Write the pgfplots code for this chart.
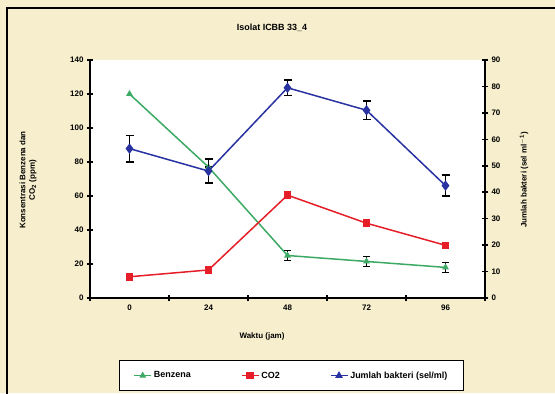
\documentclass[border=0pt]{standalone}
\usepackage{pgfplots}
\pgfplotsset{compat=1.18}
\usepackage{fontspec}
\setmainfont{Liberation Sans}
\definecolor{bg}{RGB}{246,238,204}
\definecolor{cgreen}{RGB}{60,170,100}
\definecolor{cred}{RGB}{230,30,40}
\definecolor{cblue}{RGB}{40,50,160}
\begin{document}
\begin{tikzpicture}[x=1bp,y=1bp]
\useasboundingbox (0,0) rectangle (555,393);
\clip (0,0) rectangle (555,393);
\fill[bg] (0,0) rectangle (555,393);
\draw[line width=1.5bp] (7,-10) rectangle (565,385);
\node[font=\bfseries\small] at (272,365) {Isolat ICBB 33\_4};
\node[font=\bfseries\footnotesize,align=center,rotate=90] at (28,213) {Konsentrasi Benzena dan\\CO$_\mathbf{2}$ (ppm)};
\node[font=\bfseries\footnotesize,rotate=90] at (524,213) {Jumlah bakteri (sel ml$^{\mathbf{-1}}$)};
\node[font=\bfseries\footnotesize] at (262,57) {Waktu (jam)};
\begin{axis}[
  at={(90bp,95bp)}, anchor=south west,
  width=395bp, height=238bp, scale only axis,
  axis background/.style={fill=white},
  xmin=-0.5, xmax=4.5, ymin=0, ymax=140,
  axis y line*=left, axis x line*=bottom,
  axis line style={line width=1.5bp,-},
  xtick={-0.5,0.5,...,4.5},
  x tick label as interval,
  xticklabels={0,24,48,72,96},
  ytick={0,20,...,140},
  tick align=center, major tick length=6bp,
  tick style={line width=1.5bp,black},
  ticklabel style={font=\bfseries\footnotesize},
  /pgf/number format/assume math mode=true,
  legend style={at={(0.51,-0.26)}, anchor=north, legend columns=3,
    draw=black, line width=1.5bp, fill=white, font=\bfseries\small,
    inner xsep=14bp, inner ysep=9bp,
    /tikz/every even column/.append style={column sep=48bp}},
  legend cell align=left,
  legend image post style={line width=1.5bp},
]
\addplot+[cgreen, line width=1.5bp, mark=triangle*, mark size=2.5bp,
  mark options={fill=cgreen, draw=cgreen},
  error bars/.cd, y dir=both, y explicit,
  error bar style={black,line width=1.5bp}, error mark options={black,line width=1.5bp,mark size=3.5bp,rotate=90}]
  coordinates {(0,120) (1,77) +- (0,0) (2,25) +- (0,3) (3,21.5) +- (0,3) (4,18) +- (0,3)};
\addlegendentry{Benzena}
\addplot+[cred, line width=1.5bp, mark=square*, mark size=3bp,
  mark options={fill=cred, draw=cred}]
  coordinates {(0,12.5) (1,16.5) (2,60.5) (3,44) (4,31)};
\addlegendentry{CO2}
\addlegendimage{cblue, line width=1.5bp, mark=triangle*, mark size=3bp, mark options={fill=cblue}}
\addlegendentry{Jumlah bakteri (sel/ml)}
\end{axis}
\begin{axis}[
  at={(90bp,95bp)}, anchor=south west,
  width=395bp, height=238bp, scale only axis,
  xmin=-0.5, xmax=4.5, ymin=0, ymax=90,
  axis y line*=right, axis x line=none,
  axis line style={line width=1.5bp,-},
  ytick={0,10,...,90},
  tick align=center, major tick length=6bp,
  tick style={line width=1.5bp,black},
  ticklabel style={font=\bfseries\footnotesize},
  /pgf/number format/assume math mode=true,
]
\addplot+[cblue, line width=1.5bp, mark=diamond*, mark size=4bp,
  mark options={fill=cblue, draw=cblue},
  error bars/.cd, y dir=both, y explicit,
  error bar style={black,line width=1.5bp}, error mark options={black,line width=1.5bp,mark size=4bp,rotate=90}]
  coordinates {(0,56.5) +- (0,5) (1,48) +- (0,4.5) (2,79.5) +- (0,3) (3,71) +- (0,3.5) (4,42.5) +- (0,4)};
\end{axis}
\end{tikzpicture}
\end{document}
